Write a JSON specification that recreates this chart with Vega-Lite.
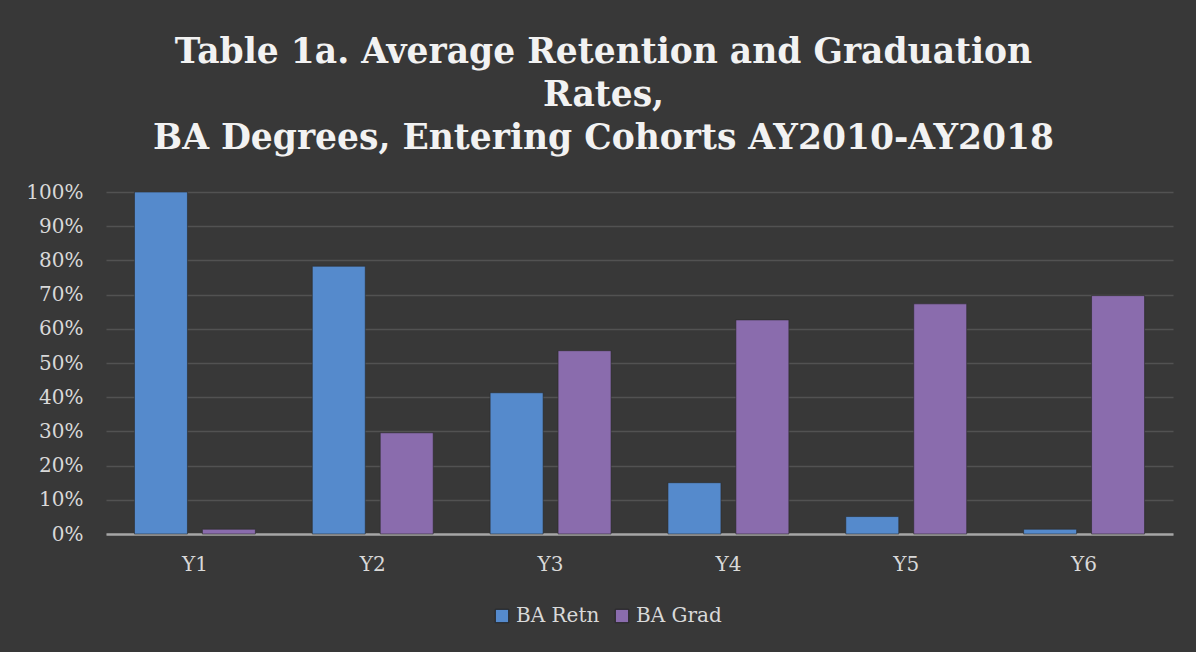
{
  "$schema": "https://vega.github.io/schema/vega-lite/v6.json",
  "width": 1067,
  "height": 342,
  "autosize": {"type": "none"},
  "padding": {"left": 106, "top": 192, "right": 23, "bottom": 118},
  "background": "#383838",
  "title": {
    "text": ["Table 1a. Average Retention and Graduation", "Rates,", "BA Degrees, Entering Cohorts AY2010-AY2018"],
    "font": "DejaVu Serif",
    "fontSize": 34.5,
    "fontWeight": "bold",
    "color": "#f2f2f2",
    "lineHeight": 43,
    "anchor": "middle",
    "frame": "group",
    "dx": -36,
    "offset": 26
  },
  "data": {
    "values": [
      {"year": "Y1", "series": "BA Retn", "rate": 1.0},
      {"year": "Y1", "series": "BA Grad", "rate": 0.014},
      {"year": "Y2", "series": "BA Retn", "rate": 0.783},
      {"year": "Y2", "series": "BA Grad", "rate": 0.296},
      {"year": "Y3", "series": "BA Retn", "rate": 0.413},
      {"year": "Y3", "series": "BA Grad", "rate": 0.536},
      {"year": "Y4", "series": "BA Retn", "rate": 0.15},
      {"year": "Y4", "series": "BA Grad", "rate": 0.626},
      {"year": "Y5", "series": "BA Retn", "rate": 0.051},
      {"year": "Y5", "series": "BA Grad", "rate": 0.673},
      {"year": "Y6", "series": "BA Retn", "rate": 0.014},
      {"year": "Y6", "series": "BA Grad", "rate": 0.697}
    ]
  },
  "mark": {"type": "bar", "stroke": "#2a2a2a", "strokeWidth": 1, "strokeOpacity": 0.6},
  "encoding": {
    "x": {
      "field": "year",
      "type": "nominal",
      "title": null,
      "scale": {"paddingInner": 0.32, "paddingOuter": 0.16},
      "axis": {
        "labelAngle": 0,
        "labelFont": "DejaVu Serif",
        "labelFontSize": 20,
        "labelColor": "#d9d9d9",
        "labelPadding": 20,
        "ticks": false,
        "domain": true,
        "domainColor": "#a6a6a6",
        "domainWidth": 2.5,
        "grid": false
      }
    },
    "xOffset": {
      "field": "series",
      "type": "nominal",
      "sort": ["BA Retn", "BA Grad"],
      "scale": {"paddingInner": 0.22, "paddingOuter": 0}
    },
    "y": {
      "field": "rate",
      "type": "quantitative",
      "title": null,
      "scale": {"domain": [0, 1]},
      "axis": {
        "format": ".0%",
        "values": [0, 0.1, 0.2, 0.3, 0.4, 0.5, 0.6, 0.7, 0.8, 0.9, 1.0],
        "labelOverlap": false,
        "labelFont": "DejaVu Serif",
        "labelFontSize": 20,
        "labelColor": "#d9d9d9",
        "labelPadding": 23,
        "ticks": false,
        "domain": false,
        "grid": true,
        "gridColor": "#525252",
        "gridWidth": 1.5
      }
    },
    "color": {
      "field": "series",
      "type": "nominal",
      "sort": ["BA Retn", "BA Grad"],
      "scale": {"domain": ["BA Retn", "BA Grad"], "range": ["#558acc", "#8a6cad"]},
      "legend": {
        "title": null,
        "orient": "none",
        "direction": "horizontal",
        "legendX": 386,
        "legendY": 414,
        "symbolType": "square",
        "symbolSize": 180,
        "symbolStrokeColor": "#222222",
        "symbolStrokeWidth": 1,
        "labelFont": "DejaVu Serif",
        "labelFontSize": 20,
        "labelColor": "#d9d9d9",
        "labelOffset": 4,
        "columnPadding": 12
      }
    }
  },
  "config": {
    "view": {"stroke": null}
  }
}
